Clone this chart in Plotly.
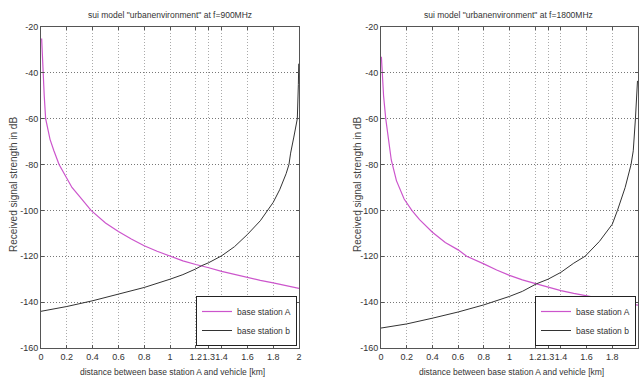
import plotly.graph_objects as go

# ---------------- data ----------------
x_a900 = [0.005, 0.01, 0.018, 0.025, 0.036, 0.05, 0.07, 0.1, 0.14, 0.2, 0.24, 0.3, 0.388, 0.5, 0.6, 0.7, 0.8,
          0.9, 1.0, 1.1, 1.2, 1.245, 1.3, 1.4, 1.5, 1.6, 1.7, 1.8, 1.9, 2.0]
a900 = [-25, -32, -40, -50, -60, -64, -69, -74, -80, -86, -90, -94, -100, -105.5, -109.2, -112.5, -115.4,
        -117.8, -120, -122, -123.6, -124.1, -125, -126.6, -128, -129.2, -130.5, -131.6, -132.8, -134]

x_b900 = [0, 0.2, 0.4, 0.6, 0.8, 1.0, 1.1, 1.2, 1.245, 1.3, 1.4, 1.5, 1.6, 1.7, 1.76, 1.8, 1.85, 1.9,
          1.922, 1.935, 1.96, 1.975, 1.987, 1.995, 1.998]
b900 = [-144, -141.9, -139.4, -136.6, -133.6, -130, -128, -125.5, -124.1, -122.8, -119.8, -115.8, -110.5,
        -104.5, -100, -96.5, -91, -84, -80, -75, -68, -64, -60, -45, -36]

x_a1800 = [0.003, 0.01, 0.02, 0.037, 0.055, 0.08, 0.12, 0.18, 0.24, 0.3, 0.4, 0.5, 0.6, 0.667, 0.8, 0.9,
           1.0, 1.1, 1.21, 1.3, 1.4, 1.5, 1.6, 1.7, 1.8, 1.9, 2.0]
a1800 = [-33, -40, -50, -60, -68, -78, -87, -95, -100, -104, -109.5, -114, -117.2, -120, -123.3, -126,
         -128.3, -130.3, -132, -133.5, -135, -136.2, -137.3, -138.5, -139.5, -140.4, -141.3]

x_b1800 = [0, 0.2, 0.4, 0.6, 0.8, 1.0, 1.1, 1.21, 1.3, 1.4, 1.5, 1.588, 1.7, 1.8, 1.84, 1.9, 1.946, 1.963,
           1.98, 1.99, 1.996]
b1800 = [-151.3, -149.5, -147, -144.3, -141.2, -137.5, -135.3, -132, -130, -127, -123, -120, -113.5, -106,
         -100, -90, -80, -74, -60, -50, -43.5]

x_ticks = [0, 0.2, 0.4, 0.6, 0.8, 1, 1.2, 1.3, 1.4, 1.6, 1.8, 2]
x_ticklabels = ["0", "0.2", "0.4", "0.6", "0.8", "1", "1.2", "1.3", "1.4", "1.6", "1.8", "2"]
y_ticks = [-160, -140, -120, -100, -80, -60, -40, -20]
y_ticklabels = ["-160", "-140", "-120", "-100", "-80", "-60", "-40", "-20"]

titles = ['sui model "urbanenvironment" at f=900MHz', 'sui model "urbanenvironment" at f=1800MHz']
x_title = "distance between base station A and vehicle [km]"
y_title = "Received signal strength in dB"
names = ["base station A", "base station b"]

# ---------------- figure ----------------
W, H = 639, 379
FONT = "Liberation Sans, Arial, sans-serif"
FS = 8.5
MAG = "#cc55cc"
BLK = "#333333"

fig = go.Figure()
fig.add_trace(go.Scatter(x=x_a900, y=a900, mode="lines", name=names[0], line=dict(color=MAG, width=1.2),
                         xaxis="x", yaxis="y", legend="legend"))
fig.add_trace(go.Scatter(x=x_b900, y=b900, mode="lines", name=names[1], line=dict(color=BLK, width=1),
                         xaxis="x", yaxis="y", legend="legend"))
fig.add_trace(go.Scatter(x=x_a1800, y=a1800, mode="lines", name=names[0], line=dict(color=MAG, width=1.2),
                         xaxis="x2", yaxis="y2", legend="legend2"))
fig.add_trace(go.Scatter(x=x_b1800, y=b1800, mode="lines", name=names[1], line=dict(color=BLK, width=1),
                         xaxis="x2", yaxis="y2", legend="legend2"))

def px(v):
    return v / W

def py(v):
    return 1 - v / H

ydom = [py(348), py(27)]
xdom1 = [px(41), px(299)]
xdom2 = [px(381), px(638)]

axis_common = dict(showline=True, linecolor="#555555", linewidth=1, mirror="ticks", ticks="inside",
                   ticklen=3, tickcolor="#555555", showgrid=True, griddash="1px,2px",
                   gridwidth=1, zeroline=False, automargin=False, tickangle=0,
                   tickfont=dict(family=FONT, size=FS + 0.5, color="#333333"))

xa = dict(axis_common, range=[0, 2], tickmode="array", tickvals=x_ticks, ticktext=x_ticklabels,
          gridcolor="#aaaaaa")
ya = dict(axis_common, range=[-160, -20], tickmode="array", tickvals=y_ticks, ticktext=y_ticklabels,
          gridcolor="#777777")

leg_common = dict(bgcolor="white", bordercolor="#222222", borderwidth=1,
                  font=dict(family=FONT, size=FS, color="#333333"), xanchor="right", yanchor="bottom",
                  tracegroupgap=0, itemwidth=30, traceorder="normal")

fig.update_layout(
    width=W, height=H, margin=dict(l=0, r=0, t=0, b=0, autoexpand=False),
    paper_bgcolor="white", plot_bgcolor="white",
    xaxis=dict(xa, domain=xdom1, anchor="y"),
    yaxis=dict(ya, domain=ydom, anchor="x"),
    xaxis2=dict(xa, domain=xdom2, anchor="y2"),
    yaxis2=dict(ya, domain=ydom, anchor="x2"),
    legend=dict(leg_common, x=px(297), y=py(346)),
    legend2=dict(leg_common, x=px(636), y=py(346)),
    showlegend=True,
)

ann = []
for i, (cx, ylx) in enumerate([(170, 13), (509, 357)]):
    ann.append(dict(text=titles[i], x=px(cx), y=py(15), xref="paper", yref="paper", showarrow=False,
                    xanchor="center", yanchor="middle", font=dict(family=FONT, size=FS, color="#333333")))
    ann.append(dict(text=x_title, x=px(cx + 2), y=py(372), xref="paper", yref="paper", showarrow=False,
                    xanchor="center", yanchor="middle", font=dict(family=FONT, size=FS, color="#333333")))
    ann.append(dict(text=y_title, x=px(ylx), y=py(185), xref="paper", yref="paper", showarrow=False,
                    textangle=-90, xanchor="center", yanchor="middle",
                    font=dict(family=FONT, size=10, color="#444444")))
fig.update_layout(annotations=ann)

fig.write_html("out.html", config={"displayModeBar": False},
               post_script="document.body.style.margin='0';document.body.style.overflow='hidden';")
